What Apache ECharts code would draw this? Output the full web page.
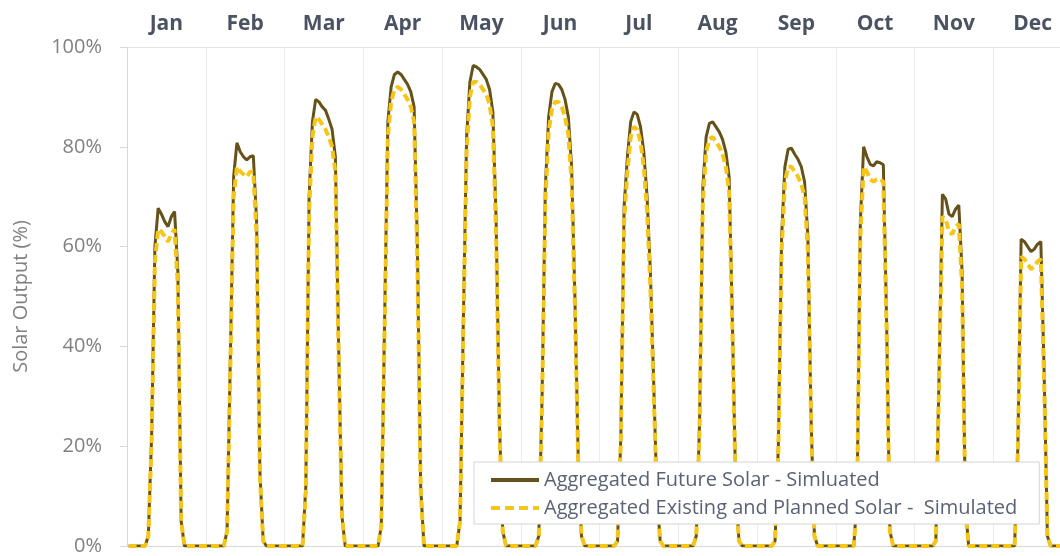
<!DOCTYPE html>
<html>
<head>
<meta charset="utf-8">
<script src="https://cdn.jsdelivr.net/npm/echarts@6/dist/echarts.min.js"></script>
<style>
html,body{margin:0;padding:0;background:#fff;}
#chart{width:1060px;height:556px;}
</style>
</head>
<body>
<div id="chart"></div>
<script>
const months = ['Jan','Feb','Mar','Apr','May','Jun','Jul','Aug','Sep','Oct','Nov','Dec'];
const hours = [0,1,2,3,4,5,6,7,8,9,10,11,12,13,14,15,16,17,18,19,20,21,22,23];
const yTicks = [0,20,40,60,80,100];
const seriesNames = ['Aggregated Future Solar - Simluated', 'Aggregated Existing and Planned Solar -  Simulated'];

// Aggregated Future Solar - Simulated (%), hourly profile per month
const futureJan = [0,0,0,0,0,0,2,22,60,67.7,66.5,65,64,66,67,55,5,0,0,0,0,0,0,0];
const futureFeb = [0,0,0,0,0,0,3,38,74,80.8,79,78,77.4,78,78.2,65,15,1,0,0,0,0,0,0];
const futureMar = [0,0,0,0,0,0,12,70,85,89.5,89,88,87.3,85.5,83.5,78,40,6,0,0,0,0,0,0];
const futureApr = [0,0,0,0,0,4,45,85,92,94.5,95,94.5,93.5,92.5,91,88,60,12,0,0,0,0,0,0];
const futureMay = [0,0,0,0,0,5,45,82,93,96.3,96,95.5,94.5,93.5,91.5,87,65,25,3,0,0,0,0,0];
const futureJun = [0,0,0,0,0,2,30,72,86,91,92.7,92.5,91.5,89.5,86,76,50,18,2,0,0,0,0,0];
const futureJul = [0,0,0,0,0,1,22,68,78,85,87,86.5,84,79,70,55,33,10,1,0,0,0,0,0];
const futureAug = [0,0,0,0,0,2,25,72,82,84.7,85,84,83,81.5,79,74,45,12,1,0,0,0,0,0];
const futureSep = [0,0,0,0,0,1,20,62,76,79.5,79.7,78.5,77.5,76,73,62,25,2,0,0,0,0,0,0];
const futureOct = [0,0,0,0,0,0,10,65,80,78,76.5,76.2,77,76.8,76.4,45,3,0,0,0,0,0,0,0];
const futureNov = [0,0,0,0,0,0,1,35,70.5,69.5,66.5,66,67.5,68.3,55,8,0,0,0,0,0,0,0,0];
const futureDec = [0,0,0,0,0,0,0,20,61.5,61,60,59,59.5,60.5,61,35,2,0,0,0,0,0,0,0];

// Aggregated Existing and Planned Solar - Simulated (%)
const existingJan = [0,0,0,0,0,0,2,21,57,63.5,63,62,61,62.5,63.5,52,5,0,0,0,0,0,0,0];
const existingFeb = [0,0,0,0,0,0,3,36,70,76,75,74.5,74,75,75,62,14,1,0,0,0,0,0,0];
const existingMar = [0,0,0,0,0,0,11,67,82,86,85.5,84.5,83.5,82,80,75,38,6,0,0,0,0,0,0];
const existingApr = [0,0,0,0,0,4,43,82,89,91.5,92,91.5,90.5,89.5,88,85,57,11,0,0,0,0,0,0];
const existingMay = [0,0,0,0,0,5,43,79,90,93,93,92.5,91.5,90.5,88.5,84,62,24,3,0,0,0,0,0];
const existingJun = [0,0,0,0,0,2,29,69,83,87.5,89,89,88,86,82.5,73,48,17,2,0,0,0,0,0];
const existingJul = [0,0,0,0,0,1,21,65,75,82,84,83.5,81,76,67,52,31,9,1,0,0,0,0,0];
const existingAug = [0,0,0,0,0,2,24,69,79,81.5,82,81,80,78.5,76,71,43,11,1,0,0,0,0,0];
const existingSep = [0,0,0,0,0,1,19,59,73,76,76,75,74,72.5,70,59,24,2,0,0,0,0,0,0];
const existingOct = [0,0,0,0,0,0,9,62,76,75,73.5,73,73.5,73.5,73,43,3,0,0,0,0,0,0,0];
const existingNov = [0,0,0,0,0,0,1,33,66,65.5,63,62.5,64,64.5,52,7,0,0,0,0,0,0,0,0];
const existingDec = [0,0,0,0,0,0,0,19,58,57.5,56.5,55.5,56,57,57.5,33,2,0,0,0,0,0,0,0];

const futureByMonth = [futureJan,futureFeb,futureMar,futureApr,futureMay,futureJun,futureJul,futureAug,futureSep,futureOct,futureNov,futureDec];
const existingByMonth = [existingJan,existingFeb,existingMar,existingApr,existingMay,existingJun,existingJul,existingAug,existingSep,existingOct,existingNov,existingDec];

const categories = [];
months.forEach(m => hours.forEach(h => categories.push(m + ' ' + h)));
const futureData = [].concat(...futureByMonth);
const existingData = [].concat(...existingByMonth);

const FONT = 'Open Sans';
const DARK = '#64521a';
const GOLD = '#f5c518';
const chart = echarts.init(document.getElementById('chart'), null, {renderer:'canvas'});
chart.setOption({
  animation: false,
  backgroundColor: '#ffffff',
  textStyle: {fontFamily: FONT},
  grid: {left: 127, top: 47, bottom: 10, width: 945, containLabel: false, outerBoundsMode: 'none'},
  xAxis: [
    {
      type: 'category', data: categories, boundaryGap: true, position: 'bottom',
      axisLine: {show: true, lineStyle: {color: '#d9d9d9', width: 1}},
      axisTick: {show: false}, axisLabel: {show: false}, splitLine: {show: false}
    },
    {
      type: 'category', data: months, boundaryGap: true, position: 'top',
      axisLine: {show: true, lineStyle: {color: '#e3e3e3', width: 1}},
      axisTick: {show: false},
      axisLabel: {show: true, interval: 0, margin: 12, color: '#4b5363', fontSize: 21, fontWeight: 'bold', fontFamily: FONT},
      splitLine: {show: true, interval: 0, lineStyle: {color: '#ececec', width: 1}}
    }
  ],
  yAxis: {
    type: 'value', min: 0, max: 100, interval: 20,
    name: 'Solar Output (%)', nameLocation: 'middle', nameRotate: 90, nameGap: 96,
    nameTextStyle: {color: '#808080', fontSize: 20, fontFamily: FONT},
    axisLine: {show: true, lineStyle: {color: '#d9d9d9', width: 1}},
    axisTick: {show: true, length: 7, lineStyle: {color: '#d9d9d9'}},
    axisLabel: {formatter: v => yTicks.includes(v) ? v + '%' : '', color: '#808080', fontSize: 20, margin: 25, fontFamily: FONT},
    splitLine: {show: false}
  },
  legend: {
    orient: 'vertical', left: 474, top: 462,
    backgroundColor: '#ffffff', borderColor: '#d4d4d4', borderWidth: 1,
    padding: [8, 22, 6, 17], itemGap: 8, itemWidth: 48, itemHeight: 14,
    textStyle: {color: '#5b6275', fontSize: 20, fontFamily: FONT},
    data: [
      {name: seriesNames[0], icon: 'path://M0,0 L48,0 L48,4 L0,4 Z', itemStyle: {color: DARK}},
      {name: seriesNames[1], icon: 'path://M0,0 L9,0 L9,4 L0,4 Z M14,0 L23,0 L23,4 L14,4 Z M28,0 L37,0 L37,4 L28,4 Z M42,0 L48,0 L48,4 L42,4 Z', itemStyle: {color: GOLD}}
    ]
  },
  series: [
    {
      name: seriesNames[0], type: 'line', data: futureData, xAxisIndex: 0,
      symbol: 'none', smooth: false,
      lineStyle: {color: DARK, width: 3}, itemStyle: {color: DARK}, z: 2
    },
    {
      name: seriesNames[1], type: 'line', data: existingData, xAxisIndex: 0,
      symbol: 'none', smooth: false,
      lineStyle: {color: GOLD, width: 4, type: [8, 4]}, itemStyle: {color: GOLD}, z: 3
    }
  ]
});
</script>
</body>
</html>
